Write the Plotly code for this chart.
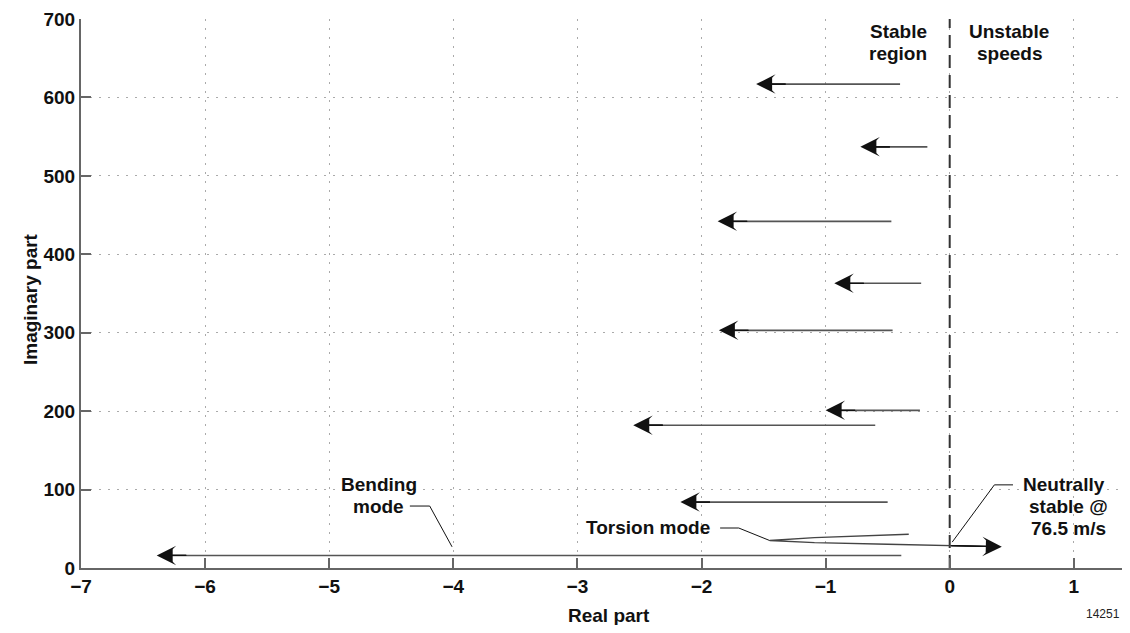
import plotly.graph_objects as go

# Eigenvalue movement arrows (start -> end)
arrow_y = [617, 537, 442, 363, 303, 201, 182, 84, 16]
arrow_x_start = [-0.40, -0.18, -0.47, -0.23, -0.46, -0.24, -0.60, -0.50, -0.39]
arrow_x_end = [-1.56, -0.72, -1.87, -0.93, -1.86, -1.00, -2.55, -2.17, -6.39]

# Torsion mode path (loops back, then crosses into the unstable region)
torsion_x = [-0.33, -0.65, -1.09, -1.45, -1.09, -0.50, 0.00, 0.26]
torsion_y = [43.0, 40.9, 38.7, 35.0, 32.3, 30.2, 28.5, 27.6]
torsion_tip = (0.42, 27.0)

# Leader lines for the labels
bend_leader_x = [-4.35, -4.19, -4.01]
bend_leader_y = [79, 79, 27]
tors_leader_x = [-1.85, -1.70, -1.45]
tors_leader_y = [51, 51, 35]
neut_leader_x = [0.02, 0.36, 0.51]
neut_leader_y = [33, 106, 106]

x_ticks = [-7, -6, -5, -4, -3, -2, -1, 0, 1]
y_ticks = [0, 100, 200, 300, 400, 500, 600, 700]

FONT = "Liberation Sans"
OFF = 8  # browser body margin

fig = go.Figure()

# dashed stability boundary
fig.add_trace(go.Scatter(x=[0, 0], y=[0, 700], mode="lines",
                         line=dict(color="#333", width=2, dash="13px,7px"),
                         hoverinfo="skip", showlegend=False))

# arrow shafts
for y, xs, xe in zip(arrow_y, arrow_x_start, arrow_x_end):
    fig.add_trace(go.Scatter(x=[xs, xe + 0.05], y=[y, y], mode="lines",
                             line=dict(color="#555", width=1.6),
                             hoverinfo="skip", showlegend=False))

# torsion curve
fig.add_trace(go.Scatter(x=torsion_x + [torsion_tip[0] - 0.05], y=torsion_y + [torsion_tip[1] + 0.2],
                         mode="lines", line=dict(color="#444", width=1.4),
                         hoverinfo="skip", showlegend=False))

for lx, ly in [(bend_leader_x, bend_leader_y), (tors_leader_x, tors_leader_y),
               (neut_leader_x, neut_leader_y)]:
    fig.add_trace(go.Scatter(x=lx, y=ly, mode="lines",
                             line=dict(color="#111", width=1),
                             hoverinfo="skip", showlegend=False))

HEAD = dict(text="", showarrow=True, arrowhead=3, arrowsize=2.5, arrowwidth=1.3,
            arrowcolor="#111", standoff=0, xref="x", yref="y", axref="x", ayref="y")
FILL = dict(text="", showarrow=True, arrowhead=2, arrowsize=2.0, arrowwidth=1.3,
            arrowcolor="#111", standoff=3, xref="x", yref="y", axref="x", ayref="y")
annotations = []
for y, xs, xe in zip(arrow_y, arrow_x_start, arrow_x_end):
    annotations.append(dict(x=xe, y=y, ax=xe + 0.25, ay=y, **HEAD))
    annotations.append(dict(x=xe, y=y, ax=xe + 0.25, ay=y, **FILL))
annotations.append(dict(x=torsion_tip[0], y=torsion_tip[1], ax=torsion_x[-2], ay=torsion_y[-2], **HEAD))
annotations.append(dict(x=torsion_tip[0], y=torsion_tip[1], ax=torsion_x[-2], ay=torsion_y[-2], **FILL))

tf = dict(family=FONT, size=19, color="#111", weight="bold")


def label(x, y, text, anchor):
    return dict(x=x, y=y, xref="x", yref="y", text=text, showarrow=False,
                xanchor=anchor, yanchor="middle", font=tf)


annotations += [
    label(-0.17, 684, "Stable", "right"),
    label(-0.17, 656, "region", "right"),
    label(0.48, 684, "Unstable", "center"),
    label(0.48, 656, "speeds", "center"),
    label(-4.60, 107, "Bending", "center"),
    label(-4.60, 79, "mode", "center"),
    label(-2.43, 52, "Torsion mode", "center"),
    label(0.92, 106, "Neutrally", "center"),
    label(0.96, 78, "stable @", "center"),
    label(0.96, 50, "76.5 m/s", "center"),
    dict(x=0.5, y=0, xref="paper", yref="paper", yanchor="middle", yshift=-47, xshift=7,
         text="Real part", showarrow=False, font=tf),
    dict(x=0, y=0.5, xref="paper", yref="paper", xshift=-63, yshift=-6, textangle=-90,
         text="Imaginary part", showarrow=False, font=tf),
    dict(x=1, y=0, xref="paper", yref="paper", xanchor="right", yanchor="middle", yshift=-46,
         xshift=0, text="14251", showarrow=False, font=dict(family=FONT, size=12, color="#222")),
]

axis_common = dict(showgrid=True, gridcolor="#aaa", griddash="2px,7px", gridwidth=1,
                   showline=True, linecolor="#666", linewidth=2,
                   ticks="inside", ticklen=10, tickcolor="#666", tickwidth=2,
                   zeroline=False, tickfont=dict(family=FONT, size=19, color="#111", weight="bold"))

W = 1130 - 2 * OFF
H = 633 - 2 * OFF
left_px = 81 - OFF
unit_px = 124.1
x_max = -7 + (W - left_px) / unit_px

fig.update_layout(
    width=W, height=H,
    margin=dict(l=left_px, r=0, t=19 - OFF, b=H - (568 - OFF)),
    paper_bgcolor="white", plot_bgcolor="white",
    showlegend=False,
    annotations=annotations,
    font=dict(family=FONT),
    xaxis=dict(range=[-7, x_max], tickvals=x_ticks,
               ticktext=[("\u2212" + str(-v)) if v < 0 else str(v) for v in x_ticks],
               **axis_common),
    yaxis=dict(range=[0, 700], tickvals=y_ticks, **axis_common),
)

fig.write_html("out.html")
